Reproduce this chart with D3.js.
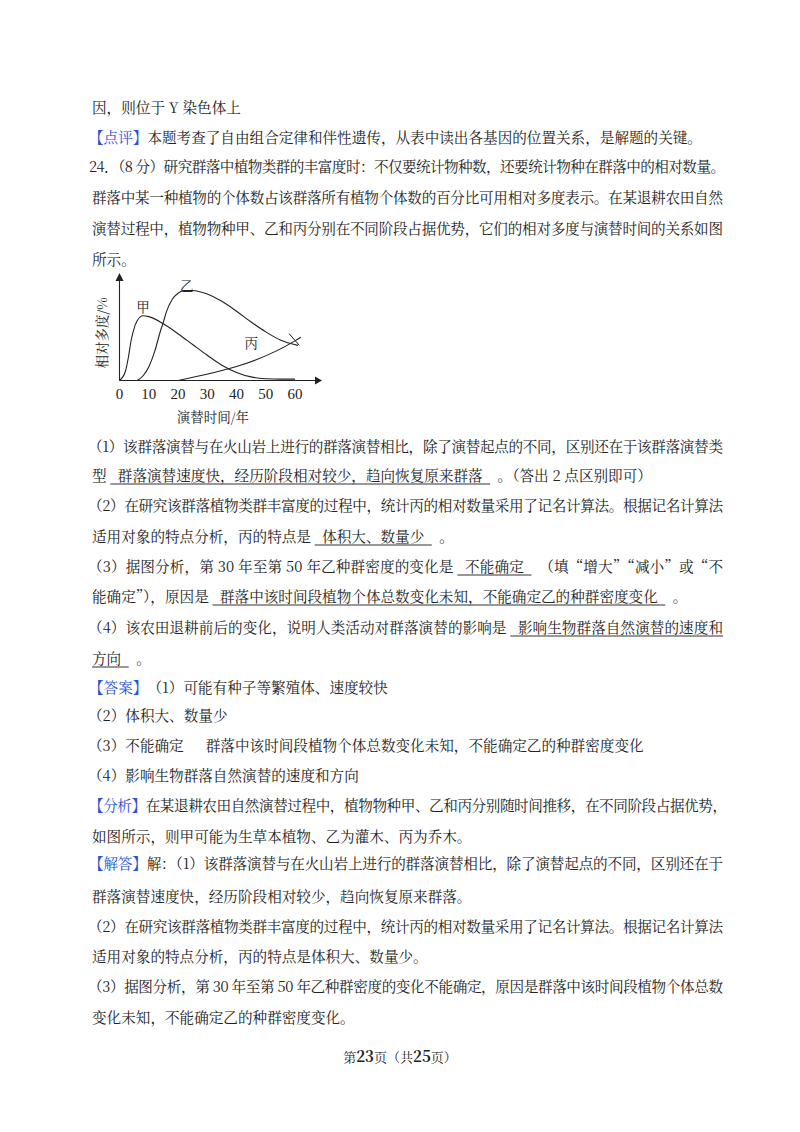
<!DOCTYPE html>
<html><head><meta charset="utf-8">
<script src="https://cdn.jsdelivr.net/npm/d3@7"></script>
<style>body{margin:0;background:#fff}text{white-space:pre}</style>
</head><body>
<svg id="page" width="800" height="1132"></svg>
<script>
// ---- data ----
const years = ["0","10","20","30","40","50","60"];
const jia = [[0,0],[2,10],[3,25],[4,45],[5,58],[6,66],[8,72],[10,71],[15,63],[20,52],[25,40],[30,28],[35,17],[40,9],[45,4],[50,2],[55,1.5],[60,1.5]];
const yi = [[6,0],[8,5],[10,15],[12,32],[14,55],[15,65],[16,76],[18,90],[20,97],[22,100],[25,100],[30,96],[35,88],[40,77],[45,65],[50,54],[55,45],[61,39]];
const bing = [[20,0],[60,44],[62,48]];
const seriesLabels = ["甲","乙","丙"];

const BLUE="#2a52d8";
const lines = [
 {y:108,x:92,s:[{t:"因，则位于 Y 染色体上"}]},
 {y:138,x:89,s:[{t:"【点评】",c:BLUE},{t:"本题考查了自由组合定律和伴性遗传，从表中读出各基因的位置关系，是解题的关键。"}]},
 {y:167,x:89,w:725,s:[{t:"24．（8 分）研究群落中植物类群的丰富度时：不仅要统计物种数，还要统计物种在群落中的相对数量。"}]},
 {y:198,x:92,w:723,s:[{t:"群落中某一种植物的个体数占该群落所有植物个体数的百分比可用相对多度表示。在某退耕农田自然"}]},
 {y:229,x:92,w:723,s:[{t:"演替过程中，植物物种甲、乙和丙分别在不同阶段占据优势，它们的相对多度与演替时间的关系如图"}]},
 {y:260,x:92,s:[{t:"所示。"}]},
 {y:447,x:88,w:723,s:[{t:"（1）该群落演替与在火山岩上进行的群落演替相比，除了演替起点的不同，区别还在于该群落演替类"}]},
 {y:476,x:92,s:[{t:"型 "},{t:"  群落演替速度快，经历阶段相对较少，趋向恢复原来群落  ",u:1},{t:"  。（答出 2 点区别即可）"}]},
 {y:506,x:88,w:723,s:[{t:"（2）在研究该群落植物类群丰富度的过程中，统计丙的相对数量采用了记名计算法。根据记名计算法"}]},
 {y:537,x:92,s:[{t:"适用对象的特点分析，丙的特点是 "},{t:"  体积大、数量少  ",u:1},{t:"  。"}]},
 {y:567,x:88,w:723,s:[{t:"（3）据图分析，第 30 年至第 50 年乙种群密度的变化是 "},{t:"  不能确定  ",u:1},{t:"  （填“增大”“减小”或“不"}]},
 {y:597,x:92,s:[{t:"能确定”），原因是 "},{t:"  群落中该时间段植物个体总数变化未知，不能确定乙的种群密度变化  ",u:1},{t:"  。"}]},
 {y:628,x:88,w:723,s:[{t:"（4）该农田退耕前后的变化，说明人类活动对群落演替的影响是 "},{t:"  影响生物群落自然演替的速度和",u:1}]},
 {y:659,x:92,s:[{t:"方向  ",u:1},{t:"  。"}]},
 {y:688,x:89,s:[{t:"【答案】",c:BLUE},{t:"（1）可能有种子等繁殖体、速度较快"}]},
 {y:716,x:88,s:[{t:"（2）体积大、数量少"}]},
 {y:746,x:88,s:[{t:"（3）不能确定　  群落中该时间段植物个体总数变化未知，不能确定乙的种群密度变化"}]},
 {y:776,x:88,s:[{t:"（4）影响生物群落自然演替的速度和方向"}]},
 {y:806,x:89,w:727,s:[{t:"【分析】",c:BLUE},{t:"在某退耕农田自然演替过程中，植物物种甲、乙和丙分别随时间推移，在不同阶段占据优势，"}]},
 {y:837,x:92,s:[{t:"如图所示，则甲可能为生草本植物、乙为灌木、丙为乔木。"}]},
 {y:864,x:89,w:723,s:[{t:"【解答】",c:BLUE},{t:"解：（1）该群落演替与在火山岩上进行的群落演替相比，除了演替起点的不同，区别还在于"}]},
 {y:897,x:92,s:[{t:"群落演替速度快，经历阶段相对较少，趋向恢复原来群落。"}]},
 {y:927,x:88,w:723,s:[{t:"（2）在研究该群落植物类群丰富度的过程中，统计丙的相对数量采用了记名计算法。根据记名计算法"}]},
 {y:957,x:92,s:[{t:"适用对象的特点分析，丙的特点是体积大、数量少。"}]},
 {y:987,x:88,w:723,s:[{t:"（3）据图分析，第 30 年至第 50 年乙种群密度的变化不能确定，原因是群落中该时间段植物个体总数"}]},
 {y:1018,x:92,s:[{t:"变化未知，不能确定乙的种群密度变化。"}]}
];

const svg=d3.select("#page");
const FONT="'Noto Serif CJK SC','Noto Sans CJK SC',serif";
const FS=14.6;
lines.forEach(L=>{
  const g=svg.append("g");
  const full=L.s.map(s=>s.t).join("");
  let ls=0;
  if(L.w){
    const tmp=g.append("text").attr("font-family",FONT).attr("font-size",FS).text(full);
    const W=tmp.node().getComputedTextLength(); tmp.remove();
    ls=(L.w-L.x-W)/(full.length-1);
  }
  let x=L.x;
  L.s.forEach(s=>{
    const t=g.append("text").attr("x",x).attr("y",L.y+5).attr("font-family",FONT)
      .attr("font-size",FS).attr("letter-spacing",ls).attr("fill",s.c||"#222").text(s.t);
    const w=t.node().getComputedTextLength();
    if(s.u) g.append("line").attr("x1",x).attr("x2",x+w).attr("y1",L.y+8).attr("y2",L.y+8).attr("stroke","#333").attr("stroke-width",1);
    x+=w;
  });
});
// footer
const ft=svg.append("text").attr("x",400).attr("y",1062).attr("text-anchor","middle").attr("font-family",FONT).attr("font-size",13).attr("fill","#222");
ft.append("tspan").text("第");ft.append("tspan").attr("font-weight","bold").attr("font-size",15).text("23");
ft.append("tspan").text("页（共");ft.append("tspan").attr("font-weight","bold").attr("font-size",15).text("25");
ft.append("tspan").text("页）");

// ---- chart ----
const x=d3.scaleLinear().domain([0,60]).range([119.5,295]);
const y=d3.scaleLinear().domain([0,100]).range([380.5,290.5]);
const c=svg.append("g").attr("stroke","#222").attr("fill","none").attr("stroke-width",1.1);
c.append("line").attr("x1",x(0)).attr("x2",315).attr("y1",y(0)).attr("y2",y(0));
c.append("line").attr("x1",x(0)).attr("x2",x(0)).attr("y1",y(0)).attr("y2",280);
svg.append("path").attr("d",`M315,${y(0)-4}L322,${y(0)}L315,${y(0)+4}Z`).attr("fill","#222");
svg.append("path").attr("d",`M${x(0)-4},281L${x(0)},273L${x(0)+4},281Z`).attr("fill","#222");
const line=d3.line().x(d=>x(d[0])).y(d=>y(d[1])).curve(d3.curveMonotoneX);
[jia,yi,bing].forEach(d=>c.append("path").attr("d",line(d)));
c.append("line").attr("x1",x(58)).attr("y1",y(52)).attr("x2",x(61.5)).attr("y2",y(39)).attr("stroke-width",1);
const CF="'Noto Serif CJK SC','Noto Sans CJK SC',serif";
svg.selectAll(".tk").data(years).enter().append("text").attr("x",d=>x(+d)).attr("y",399)
 .attr("text-anchor","middle").attr("font-family","'Liberation Serif',serif").attr("font-size",15).attr("fill","#222").text(d=>d);
const lp=[[8,82],[23,105],[45,42]];
svg.selectAll(".sl").data(seriesLabels).enter().append("text").attr("x",(d,i)=>x(lp[i][0])).attr("y",(d,i)=>y(lp[i][1])+5)
 .attr("text-anchor","middle").attr("font-family",CF).attr("font-size",13.5).attr("fill","#222").text(d=>d);
svg.append("text").attr("transform","translate(107,333) rotate(-90)").attr("text-anchor","middle")
 .attr("font-family",CF).attr("font-size",13.5).attr("fill","#222").text("相对多度/%");
svg.append("text").attr("x",213).attr("y",422).attr("text-anchor","middle")
 .attr("font-family",CF).attr("font-size",13.5).attr("fill","#222").text("演替时间/年");
</script></body></html>
